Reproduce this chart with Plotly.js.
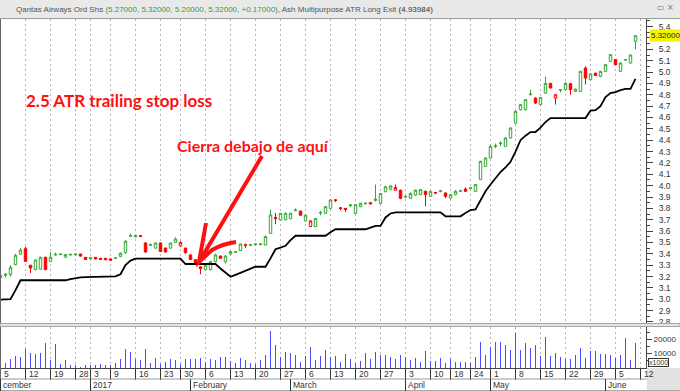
<!DOCTYPE html>
<html><head><meta charset="utf-8">
<script src="https://cdn.plot.ly/plotly-3.0.1.min.js"></script>
<style>html,body{margin:0;padding:0;background:#fff}#chart{width:680px;height:391px}</style>
</head><body><div id="chart"></div>
<script>
const dates = [
'2016-12-05','2016-12-06','2016-12-07','2016-12-08','2016-12-09','2016-12-12','2016-12-13','2016-12-14','2016-12-15','2016-12-16',
'2016-12-19','2016-12-20','2016-12-21','2016-12-22','2016-12-23','2016-12-28','2016-12-29','2016-12-30',
'2017-01-03','2017-01-04','2017-01-05','2017-01-06','2017-01-09','2017-01-10','2017-01-11','2017-01-12','2017-01-13',
'2017-01-16','2017-01-17','2017-01-18','2017-01-19','2017-01-20','2017-01-23','2017-01-24','2017-01-25','2017-01-27','2017-01-30','2017-01-31',
'2017-02-01','2017-02-02','2017-02-03','2017-02-06','2017-02-07','2017-02-08','2017-02-09','2017-02-10','2017-02-13','2017-02-14','2017-02-15','2017-02-16','2017-02-17',
'2017-02-20','2017-02-21','2017-02-22','2017-02-23','2017-02-24','2017-02-27','2017-02-28',
'2017-03-01','2017-03-02','2017-03-03','2017-03-06','2017-03-07','2017-03-08','2017-03-09','2017-03-10','2017-03-13','2017-03-14','2017-03-15','2017-03-16','2017-03-17',
'2017-03-20','2017-03-21','2017-03-22','2017-03-23','2017-03-24','2017-03-27','2017-03-28','2017-03-29','2017-03-30','2017-03-31',
'2017-04-03','2017-04-04','2017-04-05','2017-04-06','2017-04-07','2017-04-10','2017-04-11','2017-04-12','2017-04-13','2017-04-18','2017-04-19','2017-04-20','2017-04-21',
'2017-04-24','2017-04-26','2017-04-27','2017-04-28',
'2017-05-01','2017-05-02','2017-05-03','2017-05-04','2017-05-05','2017-05-08','2017-05-09','2017-05-10','2017-05-11','2017-05-12',
'2017-05-15','2017-05-16','2017-05-17','2017-05-18','2017-05-19','2017-05-22','2017-05-23','2017-05-24','2017-05-25','2017-05-26',
'2017-05-29','2017-05-30','2017-05-31','2017-06-01','2017-06-02','2017-06-05','2017-06-06','2017-06-07','2017-06-08','2017-06-09'];

const openP = [3.19,3.21,3.217,3.305,3.398,3.445,3.30,3.261,3.265,3.369,
3.334,3.39,3.393,3.37,3.39,3.39,3.398,3.369,3.355,3.369,
3.36,3.36,3.355,3.36,3.378,3.41,3.555,3.55,3.56,3.495,
3.475,3.45,3.495,3.45,3.45,3.50,3.47,3.45,3.39,3.348,
3.285,3.26,3.26,3.331,3.38,3.33,3.398,3.42,3.428,3.48,
3.475,3.48,3.48,3.478,3.58,3.72,3.698,3.70,3.71,3.78,
3.776,3.69,3.64,3.64,3.76,3.757,3.80,3.875,3.805,3.80,
3.825,3.756,3.815,3.84,3.85,3.87,3.844,3.947,3.967,3.96,
3.96,3.90,3.888,3.917,3.921,3.95,3.906,3.94,3.95,3.935,
3.89,3.921,3.95,3.97,3.975,3.95,4.053,4.17,4.243,4.345,
4.37,4.346,4.42,4.55,4.669,4.669,4.80,4.77,4.713,4.815,
4.90,4.77,4.84,4.845,4.898,4.83,4.83,5.035,4.933,4.99,
4.962,5.006,5.094,5.11,5.006,5.106,5.08,5.27];
const highP = [3.22,3.23,3.30,3.40,3.451,3.46,3.30,3.35,3.375,3.375,
3.416,3.41,3.40,3.395,3.40,3.40,3.40,3.372,3.372,3.372,
3.362,3.362,3.36,3.37,3.41,3.52,3.58,3.565,3.565,3.50,
3.49,3.50,3.50,3.455,3.50,3.545,3.51,3.455,3.395,3.35,
3.29,3.305,3.34,3.40,3.385,3.39,3.425,3.425,3.49,3.49,
3.485,3.49,3.49,3.56,3.79,3.76,3.76,3.765,3.76,3.80,
3.78,3.745,3.695,3.715,3.78,3.82,3.88,3.88,3.81,3.80,
3.835,3.835,3.85,3.85,3.855,4.01,3.935,4.00,4.005,4.01,
3.965,3.91,3.94,3.965,3.97,3.955,3.955,3.945,3.96,3.94,
3.925,3.96,3.965,3.985,3.985,4.015,4.22,4.25,4.355,4.37,
4.39,4.425,4.515,4.66,4.72,4.76,4.845,4.78,4.78,4.96,
4.905,4.805,4.85,4.91,4.905,4.855,5.01,5.05,4.99,4.995,
5.01,5.07,5.16,5.115,5.085,5.115,5.155,5.32];
const lowP = [3.18,3.19,3.20,3.30,3.39,3.33,3.23,3.255,3.26,3.255,
3.33,3.385,3.39,3.368,3.385,3.385,3.375,3.35,3.352,3.35,
3.345,3.345,3.34,3.355,3.37,3.40,3.55,3.545,3.545,3.41,
3.47,3.445,3.415,3.41,3.445,3.495,3.46,3.40,3.345,3.315,
3.22,3.255,3.255,3.325,3.355,3.316,3.395,3.41,3.425,3.45,
3.47,3.475,3.475,3.475,3.575,3.66,3.69,3.695,3.705,3.775,
3.735,3.685,3.635,3.635,3.74,3.75,3.795,3.855,3.78,3.77,
3.81,3.75,3.81,3.835,3.835,3.86,3.84,3.94,3.96,3.955,
3.88,3.89,3.885,3.91,3.915,3.818,3.90,3.925,3.94,3.89,
3.885,3.915,3.945,3.945,3.97,3.945,4.05,4.165,4.24,4.33,
4.35,4.34,4.415,4.545,4.66,4.66,4.795,4.72,4.705,4.81,
4.855,4.713,4.82,4.84,4.80,4.825,4.825,4.89,4.925,4.965,
4.955,5.00,5.09,5.06,5.00,5.10,5.075,5.20];
const closeP = [3.21,3.22,3.281,3.387,3.433,3.334,3.275,3.345,3.369,3.261,
3.369,3.395,3.397,3.393,3.395,3.397,3.38,3.35,3.366,3.355,
3.35,3.347,3.343,3.363,3.405,3.51,3.56,3.562,3.555,3.416,
3.48,3.495,3.42,3.416,3.495,3.53,3.50,3.41,3.35,3.32,
3.27,3.30,3.33,3.39,3.36,3.38,3.42,3.415,3.486,3.475,
3.48,3.486,3.487,3.551,3.742,3.71,3.756,3.756,3.757,3.785,
3.74,3.74,3.69,3.71,3.762,3.815,3.874,3.87,3.80,3.79,
3.83,3.832,3.844,3.845,3.84,3.88,3.93,3.99,3.997,3.985,
3.888,3.905,3.932,3.96,3.965,3.921,3.95,3.935,3.955,3.906,
3.921,3.95,3.955,3.95,3.98,4.01,4.214,4.243,4.346,4.35,
4.375,4.42,4.507,4.654,4.713,4.757,4.805,4.727,4.777,4.90,
4.86,4.80,4.845,4.90,4.845,4.85,5.006,4.947,4.983,4.97,
5.006,5.065,5.153,5.065,5.08,5.11,5.15,5.32];
// colour of each candle as drawn (g = green, r = red), ten candles per group
const tone = ['gggggrrggr','ggggggrrgr','rrrgggggrr','ggrrggrrrr','rgggrggggr',
  'gggggrgggg','rgrggggrrr','ggggrggggr','rggggrgrgr','gggrgggggg',
  'gggggggrgg','rrggrggrgr','gggrgggg'].join('');
const volumeK = [5000,3680,6480,8340,7880,13470,10680,9750,10680,17200,
5550,16730,2520,5550,1820,1820,1000,1820,2050,2280,
2520,1820,2280,3220,6480,13010,11150,6480,5320,13470,
3220,7180,2520,4380,5990,5320,2980,5990,5990,6480,
6950,4150,6480,5550,7880,7880,4610,3680,7180,5320,
3680,2980,5320,8810,25830,15800,7690,11380,10680,8810,
4150,8340,14870,5320,8340,12320,7880,8340,4380,9520,
5990,3220,5090,10210,5990,11380,9290,9290,7880,6480,
8810,7880,5320,6720,4380,11610,4850,4850,7180,3680,
6480,4150,4150,4150,3220,7880,18370,9050,14400,18370,
18370,15800,12550,24660,12320,17670,13710,16270,8340,21860,
8340,10210,7690,6480,6480,8810,13710,7180,11610,11850,
9750,9750,8810,7180,8810,21160,5320,17200];
const atrStop = [2.996,2.998,3.00,3.08,3.167,3.167,3.167,3.167,3.167,3.167,
3.167,3.167,3.167,3.167,3.177,3.187,3.193,3.195,3.197,3.198,
3.20,3.20,3.201,3.202,3.22,3.30,3.34,3.357,3.357,3.357,
3.357,3.357,3.357,3.357,3.357,3.357,3.357,3.31,3.31,3.31,
3.31,3.31,3.31,3.31,3.27,3.23,3.198,3.215,3.232,3.25,
3.27,3.286,3.286,3.286,3.36,3.44,3.455,3.47,3.52,3.559,
3.559,3.559,3.559,3.559,3.559,3.559,3.59,3.616,3.616,3.616,
3.616,3.616,3.616,3.616,3.63,3.645,3.645,3.72,3.755,3.765,
3.765,3.765,3.765,3.765,3.765,3.765,3.765,3.765,3.765,3.73,
3.73,3.73,3.73,3.76,3.785,3.79,3.87,3.95,4.01,4.067,
4.12,4.16,4.21,4.30,4.40,4.44,4.472,4.472,4.51,4.56,
4.595,4.595,4.595,4.595,4.595,4.595,4.595,4.595,4.66,4.665,
4.70,4.78,4.815,4.824,4.84,4.851,4.851,4.93984];
const extraWeekLabels = ['12'];
const monthLabels = ['cember','2017','February','March','April','May','June'];
const priceTicks = [2.8,2.9,3.0,3.1,3.2,3.3,3.4,3.5,3.6,3.7,3.8,3.9,4.0,4.1,4.2,4.3,4.4,4.5,4.6,4.7,4.8,4.9,5.0,5.1,5.2,5.3,5.4];
const volumeTicks = [10000, 20000];
const security = 'Qantas Airways Ord Shs';
const indicator = 'Ash Multipurpose ATR Long Exit';
const noteTitle = '2.5 ATR trailing stop loss';
const noteArrow = 'Cierra debajo de aquí';

const W = 680, H = 391, ML = 0, MR = 34, MT = 19, MB = 23;
const PW = W - ML - MR, PH = H - MT - MB;
const px = v => (v - ML) / PW;
const py = v => (H - MB - v) / PH;

const n = dates.length;
const idx = dates.map((d, i) => i);
const dayMs = d => Date.parse(d + 'T00:00:00Z');
const dow = d => new Date(d + 'T00:00:00Z').getUTCDay();
const tickIdx = [], tickText = [];
dates.forEach((d, i) => {
  if (i === 0 || dow(d) < dow(dates[i - 1]) || dayMs(d) - dayMs(dates[i - 1]) >= 7 * 864e5) {
    tickIdx.push(i); tickText.push(String(+d.slice(8)));
  }
});
extraWeekLabels.forEach((t, k) => { tickIdx.push(n + k); tickText.push(t); });
const monthIdx = [];
dates.forEach((d, i) => { if (i === 0 || d.slice(5, 7) !== dates[i - 1].slice(5, 7)) monthIdx.push(i); });

const GREEN = '#34a834', RED = '#ff0000';
function candles(t, col) {
  const sel = idx.filter(i => tone[i] === t);
  return {
    type: 'candlestick', xaxis: 'x', yaxis: 'y',
    x: sel, open: sel.map(i => openP[i]), high: sel.map(i => highP[i]),
    low: sel.map(i => lowP[i]), close: sel.map(i => closeP[i]),
    increasing: {line: {color: col, width: 1}, fillcolor: '#ffffff'},
    decreasing: {line: {color: col, width: 1}, fillcolor: col},
    whiskerwidth: 0, hoverinfo: 'skip', showlegend: false
  };
}
const traces = [
  candles('g', GREEN), candles('r', RED),
  {type: 'scatter', mode: 'lines', x: idx, y: atrStop, xaxis: 'x', yaxis: 'y',
   line: {color: '#000', width: 1.8}, hoverinfo: 'skip'},
  {type: 'bar', x: idx, y: volumeK, xaxis: 'x2', yaxis: 'y2', width: 0.24,
   marker: {color: '#4a4aff', line: {width: 0}}, hoverinfo: 'skip'}
];

const last = n - 1;
const hdr = security + ' <span style="color:#3a9a3a">(' +
  [openP[last], highP[last], lowP[last], closeP[last]].map(v => v.toFixed(5)).join(', ') +
  ', +' + (closeP[last] - closeP[last - 1]).toFixed(5) + ')</span>, ' + indicator +
  ' <span style="color:#333">(' + atrStop[last].toFixed(5) + ')</span>';

const FAM = 'Liberation Sans, Arial, sans-serif';
const smallFont = {family: FAM, size: 8.5, color: '#333'};
// the price tag hides the tick label nearest the last close
const tagTick = priceTicks.reduce((a, b) => Math.abs(b - closeP[last]) < Math.abs(a - closeP[last]) ? b : a);
const priceTickText = priceTicks.map(v => v === tagTick ? '' : v.toFixed(1));

const annotations = [
  {xref: 'paper', yref: 'paper', x: px(14), y: py(9.5), xanchor: 'left', yanchor: 'middle',
   text: hdr, showarrow: false, font: {family: FAM, size: 8, color: '#555'}},
  {xref: 'paper', yref: 'paper', x: px(655), y: py(7), xanchor: 'left', yanchor: 'middle',
   text: '▭ ×', showarrow: false, font: {family: 'DejaVu Sans', size: 8, color: '#777'}},
  {xref: 'paper', yref: 'y', x: 1, y: closeP[last], xanchor: 'left', yanchor: 'middle', xshift: 3,
   text: closeP[last].toFixed(5), showarrow: false, bgcolor: '#f4f400', borderpad: 1,
   font: {family: FAM, size: 8, color: '#222'}},
  {xref: 'paper', yref: 'paper', x: px(648), y: py(362), xanchor: 'left', yanchor: 'middle',
   text: 'x1000', showarrow: false, bordercolor: '#333', borderwidth: 1, borderpad: 0, bgcolor: '#fff',
   font: {family: FAM, size: 7, color: '#333'}},
  {xref: 'paper', yref: 'paper', x: px(24), y: py(101), xanchor: 'left', yanchor: 'middle',
   text: '<b>' + noteTitle + '</b>', showarrow: false,
   font: {family: 'Lato, Open Sans, sans-serif', size: 17, color: '#ff1010'}},
  {xref: 'paper', yref: 'paper', x: px(175), y: py(145), xanchor: 'left', yanchor: 'middle',
   text: '<b>' + noteArrow + '</b>', showarrow: false,
   font: {family: 'Lato, Open Sans, sans-serif', size: 16, color: '#ff1010'}}
];
tickIdx.forEach((t, k) => annotations.push({
  xref: 'x2', yref: 'paper', x: t, y: py(373.8), xanchor: 'left', yanchor: 'middle', xshift: 1,
  text: tickText[k], showarrow: false, font: smallFont
}));
monthIdx.forEach((m, k) => annotations.push({
  xref: 'x2', yref: 'paper', x: m, y: py(385), xanchor: 'left', yanchor: 'middle', xshift: 0,
  text: monthLabels[k], showarrow: false, font: smallFont
}));

const shapes = [
  {type: 'rect', xref: 'paper', yref: 'paper', x0: px(0), x1: px(W), y0: py(0), y1: py(18.5),
   fillcolor: '#e9e9e9', line: {width: 0}},
  {type: 'line', xref: 'paper', yref: 'paper', x0: px(0), x1: px(W), y0: py(18.5), y1: py(18.5),
   line: {color: '#9a9a9a', width: 1}},
  {type: 'line', xref: 'paper', yref: 'paper', x0: px(0.5), x1: px(0.5), y0: py(19), y1: py(391),
   line: {color: '#666', width: 1}},
  {type: 'rect', xref: 'paper', yref: 'paper', x0: px(0), x1: px(W), y0: py(323.5), y1: py(326.5),
   fillcolor: '#e4e4e4', line: {color: '#a8a8a8', width: 1}},
  {type: 'line', xref: 'paper', yref: 'paper', x0: px(0), x1: px(647), y0: py(379), y1: py(379),
   line: {color: '#999', width: 1}},
  {type: 'rect', xref: 'paper', yref: 'paper', x0: px(647), x1: px(W), y0: py(368), y1: py(H),
   fillcolor: '#e2e2e2', line: {width: 0}},
  {type: 'line', xref: 'paper', yref: 'paper', x0: px(0), x1: px(W), y0: py(390.5), y1: py(390.5),
   line: {color: '#aaa', width: 1}},
  // hand-drawn red arrow
  {type: 'path', xref: 'paper', yref: 'paper', line: {color: '#ff1010', width: 4},
   path: `M${px(262)},${py(156)} L${px(199)},${py(262)} M${px(206)},${py(223)} Q${px(202)},${py(245)} ${px(199)},${py(262)} L${px(212)},${py(250)} Q${px(222)},${py(244)} ${px(236)},${py(242)}`}
];
monthIdx.forEach(m => shapes.push({type: 'line', xref: 'x2', yref: 'paper', x0: m, x1: m, y0: py(379), y1: py(391),
  line: {color: '#333', width: 1}}));

const gridDash = '2px,3px';
const layout = {
  width: W, height: H, margin: {l: ML, r: MR, t: MT, b: MB, pad: 0},
  paper_bgcolor: '#fff', plot_bgcolor: '#fff', showlegend: false, hovermode: false,
  boxgap: 0.3, bargap: 0,
  xaxis: {domain: [0, 1], anchor: 'y', range: [-0.1, 129.1], tickvals: tickIdx, showticklabels: false,
    ticks: '', showgrid: true, griddash: gridDash, gridcolor: '#b4b4b4', gridwidth: 1,
    zeroline: false, showline: false, rangeslider: {visible: false}, fixedrange: true},
  yaxis: {domain: [44 / PH, 1], anchor: 'x', side: 'right', range: [2.782, 5.467],
    tickvals: priceTicks, ticktext: priceTickText,
    ticks: 'outside', ticklen: 6, tickcolor: '#444', tickwidth: 1,
    showline: true, linecolor: '#444', linewidth: 1, showgrid: false, zeroline: false,
    tickfont: smallFont, ticklabelstandoff: 4,
    minor: {dtick: 0.05, tick0: 2.8, ticks: 'outside', ticklen: 3, tickcolor: '#444', showgrid: false}},
  xaxis2: {domain: [0, 1], anchor: 'y2', matches: 'x', range: [-0.1, 129.1], tickvals: tickIdx,
    showticklabels: false, ticks: 'outside', ticklen: 11, tickcolor: '#333', tickwidth: 1,
    showgrid: true, griddash: gridDash, gridcolor: '#b4b4b4', showline: true, linecolor: '#444', linewidth: 1,
    zeroline: false, fixedrange: true},
  yaxis2: {domain: [0, 41 / PH], anchor: 'x2', side: 'right', range: [0, 28500], tickvals: volumeTicks,
    ticktext: volumeTicks.map(String), ticks: 'outside', ticklen: 5, tickcolor: '#444', showline: true,
    linecolor: '#444', showgrid: false, zeroline: false, tickfont: {family: FAM, size: 8, color: '#333'},
    ticklabelstandoff: 0,
    minor: {dtick: 5000, ticks: 'outside', ticklen: 3, tickcolor: '#444'}},
  annotations: annotations, shapes: shapes
};
Plotly.newPlot('chart', traces, layout, {staticPlot: true, displayModeBar: false});
</script></body></html>
